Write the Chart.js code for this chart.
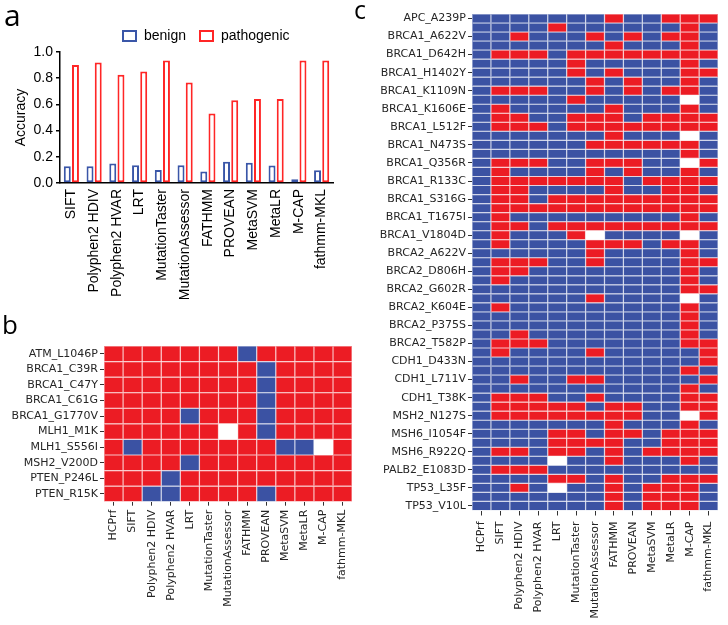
<!DOCTYPE html>
<html><head><meta charset="utf-8">
<script src="https://cdn.jsdelivr.net/npm/chart.js@4.4.1/dist/chart.umd.min.js"></script>
<style>
html,body{margin:0;padding:0;background:#fff;}
body{width:728px;height:625px;position:relative;overflow:hidden;}
canvas{position:absolute;}
.lbl{position:absolute;font-family:'Open Sans',sans-serif;line-height:1;color:#000;}
</style></head><body>
<canvas id="ca" width="345" height="300" style="left:0;top:0"></canvas>
<canvas id="cb" width="360" height="325" style="left:0;top:300px"></canvas>
<canvas id="cc" width="388" height="625" style="left:340px;top:0"></canvas>
<div class="lbl" style="left:4px;top:0px;font-size:30px">a</div>
<div class="lbl" style="left:2px;top:311px;font-size:26px">b</div>
<div class="lbl" style="left:354px;top:-3px;font-size:25px">c</div>
<script>
// ---------- Panel a data ----------
const toolsA = ['SIFT','Polyphen2 HDIV','Polyphen2 HVAR','LRT','MutationTaster','MutationAssessor','FATHMM','PROVEAN','MetaSVM','MetaLR','M-CAP','fathmm-MKL'];
const benignAcc = [0.128,0.128,0.149,0.136,0.100,0.136,0.087,0.162,0.154,0.133,0.028,0.097];
const pathogenicAcc = [0.900,0.920,0.826,0.851,0.936,0.767,0.531,0.631,0.641,0.641,0.936,0.936];
const seriesNames = ['benign','pathogenic'];

// ---------- Heatmap columns ----------
const heatCols = ['HCPrf','SIFT','Polyphen2 HDIV','Polyphen2 HVAR','LRT','MutationTaster','MutationAssessor','FATHMM','PROVEAN','MetaSVM','MetaLR','M-CAP','fathmm-MKL'];

// ---------- Panel b data (1 = pathogenic call, 0 = benign call, null = missing) ----------
const bRows = ['ATM_L1046P','BRCA1_C39R','BRCA1_C47Y','BRCA1_C61G','BRCA1_G1770V','MLH1_M1K','MLH1_S556I','MSH2_V200D','PTEN_P246L','PTEN_R15K'];
const bCalls = [
  [1,1,1,1,1,1,1,0,1,1,1,1,1],
  [1,1,1,1,1,1,1,1,0,1,1,1,1],
  [1,1,1,1,1,1,1,1,0,1,1,1,1],
  [1,1,1,1,1,1,1,1,0,1,1,1,1],
  [1,1,1,1,0,1,1,1,0,1,1,1,1],
  [1,1,1,1,1,1,null,1,0,1,1,1,1],
  [1,0,1,1,1,1,1,1,1,0,0,null,1],
  [1,1,1,1,0,1,1,1,1,1,1,1,1],
  [1,1,1,0,1,1,1,1,1,1,1,1,1],
  [1,1,0,0,1,1,1,1,0,1,1,1,1]
];

// ---------- Panel c data (every other row is labelled in the figure) ----------
const cRows = ['APC_A239P','','BRCA1_A622V','','BRCA1_D642H','','BRCA1_H1402Y','','BRCA1_K1109N','','BRCA1_K1606E','','BRCA1_L512F','','BRCA1_N473S','','BRCA1_Q356R','','BRCA1_R133C','','BRCA1_S316G','','BRCA1_T1675I','','BRCA1_V1804D','','BRCA2_A622V','','BRCA2_D806H','','BRCA2_G602R','','BRCA2_K604E','','BRCA2_P375S','','BRCA2_T582P','','CDH1_D433N','','CDH1_L711V','','CDH1_T38K','','MSH2_N127S','','MSH6_I1054F','','MSH6_R922Q','','PALB2_E1083D','','TP53_L35F','','TP53_V10L'];
const cCalls = [
  [0,0,0,0,0,0,0,1,0,0,1,1,1],
  [0,0,0,0,1,0,0,0,0,0,0,1,0],
  [0,0,1,0,0,0,1,0,1,0,1,1,0],
  [0,0,0,0,0,0,0,1,0,0,0,1,0],
  [0,1,1,1,0,1,1,1,1,1,1,1,1],
  [0,0,0,0,0,1,0,0,0,0,0,1,0],
  [0,0,0,0,0,1,0,1,0,0,0,1,1],
  [0,0,0,0,0,0,1,0,1,0,0,1,0],
  [0,1,1,1,0,0,1,0,1,0,1,1,0],
  [0,0,0,0,0,1,0,0,0,0,0,null,0],
  [0,1,0,0,0,0,0,1,0,0,0,1,0],
  [0,1,1,0,0,1,1,1,0,1,1,1,1],
  [0,1,1,1,0,1,1,1,1,1,1,1,1],
  [0,0,0,0,0,0,0,1,0,0,0,null,0],
  [0,0,0,0,0,0,1,1,1,1,1,1,0],
  [0,0,0,0,0,0,0,0,0,0,0,1,0],
  [0,1,1,1,0,0,1,1,1,0,0,null,1],
  [0,1,0,0,0,0,1,0,1,0,0,1,0],
  [0,1,1,1,1,1,1,1,0,1,1,1,1],
  [0,1,1,0,0,0,0,1,0,0,1,1,0],
  [0,1,1,0,1,1,1,1,1,1,1,1,1],
  [0,1,1,1,1,1,1,1,1,1,1,1,1],
  [0,1,0,0,0,0,0,0,0,0,0,1,0],
  [0,1,1,0,1,1,1,1,1,1,1,1,1],
  [0,1,0,0,0,1,null,0,0,0,0,null,0],
  [0,1,0,0,0,0,1,1,1,0,1,1,0],
  [0,0,0,0,0,0,1,0,0,0,0,1,0],
  [0,1,1,1,0,0,1,0,0,0,0,1,1],
  [0,1,1,0,0,0,0,0,0,0,0,1,0],
  [0,1,0,0,0,0,0,0,0,0,0,1,0],
  [0,0,0,0,0,0,0,0,0,0,0,1,1],
  [0,0,0,0,0,0,1,0,0,0,0,null,0],
  [0,1,0,0,0,0,0,0,0,0,0,1,0],
  [0,0,0,0,0,0,0,0,0,0,0,1,0],
  [0,0,0,0,0,0,0,0,0,0,0,1,0],
  [0,0,1,0,0,0,0,0,0,0,0,1,0],
  [0,1,1,1,0,0,0,0,0,0,0,1,1],
  [0,1,0,0,0,0,1,0,0,0,0,0,1],
  [0,0,0,0,0,0,0,0,0,0,0,0,1],
  [0,0,0,0,0,0,0,0,0,0,0,1,0],
  [0,0,1,0,0,1,1,0,0,0,0,0,1],
  [0,0,0,0,0,0,0,0,0,0,0,1,0],
  [0,1,1,1,0,0,1,0,0,0,0,1,1],
  [0,1,1,1,1,1,0,1,1,0,0,1,1],
  [0,1,1,1,1,1,1,1,1,0,0,null,1],
  [0,0,0,0,0,0,0,1,0,0,0,1,0],
  [0,0,0,0,1,1,0,1,1,0,1,1,1],
  [0,0,0,0,1,1,1,1,0,0,1,1,1],
  [0,1,1,0,1,1,0,1,0,1,1,1,1],
  [0,0,0,0,null,0,0,1,0,0,0,1,0],
  [0,1,1,1,0,0,0,0,0,0,0,0,0],
  [0,0,0,0,1,1,0,1,0,0,1,1,1],
  [0,0,1,0,null,0,0,1,0,1,1,1,0],
  [0,0,0,0,0,0,0,1,0,1,1,1,0],
  [0,0,0,0,0,0,0,1,0,1,1,1,0]
];

// ---------- styling ----------
const BLUE_A = '#3a56a8', RED_A = '#ff2626';
const HEAT_RED = '#ec1c24', HEAT_BLUE = '#3b52a3';
const HEAT_RED_LINE = '#f58a8f', HEAT_BLUE_LINE = '#98a5d0';
const fontA = "'Liberation Sans', Arial, sans-serif";
const fontH = "'DejaVu Sans', sans-serif";
Chart.defaults.animation = false;
Chart.defaults.color = '#000';

// ---------- Panel a ----------
const manualLegend = {
  id: 'manualLegend',
  afterDraw(chart) {
    const ctx = chart.ctx;
    const xs = [122, 199];
    ctx.save();
    chart.data.datasets.forEach((ds, i) => {
      ctx.strokeStyle = ds.borderColor;
      ctx.lineWidth = 2;
      ctx.strokeRect(xs[i] + 1, 31, 13, 10);
      ctx.fillStyle = '#000';
      ctx.font = '14px ' + fontA;
      ctx.textBaseline = 'middle';
      ctx.textAlign = 'left';
      ctx.fillText(ds.label, xs[i] + 22, 36);
    });
    ctx.restore();
  }
};

new Chart(document.getElementById('ca'), {
  type: 'bar',
  data: {
    labels: toolsA,
    datasets: [
      {label: seriesNames[0], data: benignAcc, backgroundColor: '#fff', borderColor: BLUE_A, borderWidth: 2, borderSkipped: false},
      {label: seriesNames[1], data: pathogenicAcc, backgroundColor: '#fff', borderColor: RED_A, borderWidth: 2, borderSkipped: false}
    ]
  },
  options: {
    responsive: false,
    barPercentage: 0.85,
    categoryPercentage: 0.72,
    layout: {padding: {top: 52, right: 12, left: 0, bottom: 0}},
    plugins: {legend: {display: false}, tooltip: {enabled: false}},
    scales: {
      x: {
        afterFit: s => { s.height = 117; },
        ticks: {autoSkip: false, maxRotation: 90, minRotation: 90, padding: 6, color: '#000', font: {family: fontA, size: 14}},
        grid: {drawOnChartArea: false, drawTicks: false, color: '#000'},
        border: {display: true, color: '#000', width: 1.5}
      },
      y: {
        min: 0, max: 1,
        afterFit: s => { s.width = 60; },
        ticks: {stepSize: 0.2, padding: 3, color: '#000', font: {family: fontA, size: 14}, callback: v => Number(v).toFixed(1)},
        grid: {drawOnChartArea: false, drawTicks: true, tickLength: 4, color: '#000', lineWidth: 1.5},
        border: {display: true, color: '#000', width: 1.5},
        title: {display: true, text: 'Accuracy', color: '#000', font: {family: fontA, size: 14}, padding: {top: 13, bottom: 0}}
      }
    }
  },
  plugins: [manualLegend]
});

// ---------- Heatmaps ----------
function heatFill(v) { return v === null ? '#ffffff' : (v ? HEAT_RED : HEAT_BLUE); }
function heatLine(v) { return v === null ? '#ffffff' : (v ? HEAT_RED_LINE : HEAT_BLUE_LINE); }

function heatmap(canvas, rows, calls, cfg) {
  const datasets = heatCols.map((name, j) => ({
    label: name,
    data: rows.map(() => 1),
    backgroundColor: ctx => heatFill(calls[ctx.dataIndex][j]),
    borderColor: ctx => heatLine(calls[ctx.dataIndex][j]),
    borderWidth: 0.6,
    borderSkipped: false,
    inflateAmount: 0,
    barPercentage: 1,
    categoryPercentage: 1
  }));
  new Chart(canvas, {
    type: 'bar',
    data: {labels: rows, datasets},
    options: {
      indexAxis: 'y',
      responsive: false,
      layout: {padding: {top: cfg.top, right: cfg.right, left: 0, bottom: 0}},
      plugins: {legend: {display: false}, tooltip: {enabled: false}},
      scales: {
        x: {
          type: 'linear', stacked: true, min: 0, max: heatCols.length,
          afterBuildTicks: s => { s.ticks = heatCols.map((_, j) => ({value: j + 0.5})); },
          afterFit: s => { s.height = cfg.xh; },
          ticks: {autoSkip: false, maxRotation: 90, minRotation: 90, padding: cfg.xpad, color: '#262626',
                  font: {family: fontH, size: 11}, callback: (v, i) => heatCols[i]},
          grid: {drawOnChartArea: false, drawTicks: true, tickLength: cfg.xtl, color: '#333', offset: false},
          border: {display: false}
        },
        y: {
          stacked: true,
          afterFit: s => { s.width = cfg.yw; },
          ticks: {autoSkip: false, padding: 2, color: '#262626', font: {family: fontH, size: 11}},
          grid: {drawOnChartArea: false, drawTicks: true, tickLength: 4, offset: false,
                 color: ctx => (rows[ctx.index] ? '#333' : 'rgba(0,0,0,0)')},
          border: {display: false}
        }
      }
    }
  });
}

heatmap(document.getElementById('cb'), bRows, bCalls, {top: 46, right: 6, yw: 104, xh: 123.3, xpad: 4, xtl: 4});
heatmap(document.getElementById('cc'), cRows, cCalls, {top: 14, right: 5, yw: 132, xh: 114.5, xpad: 6, xtl: 5});
</script>
</body></html>
